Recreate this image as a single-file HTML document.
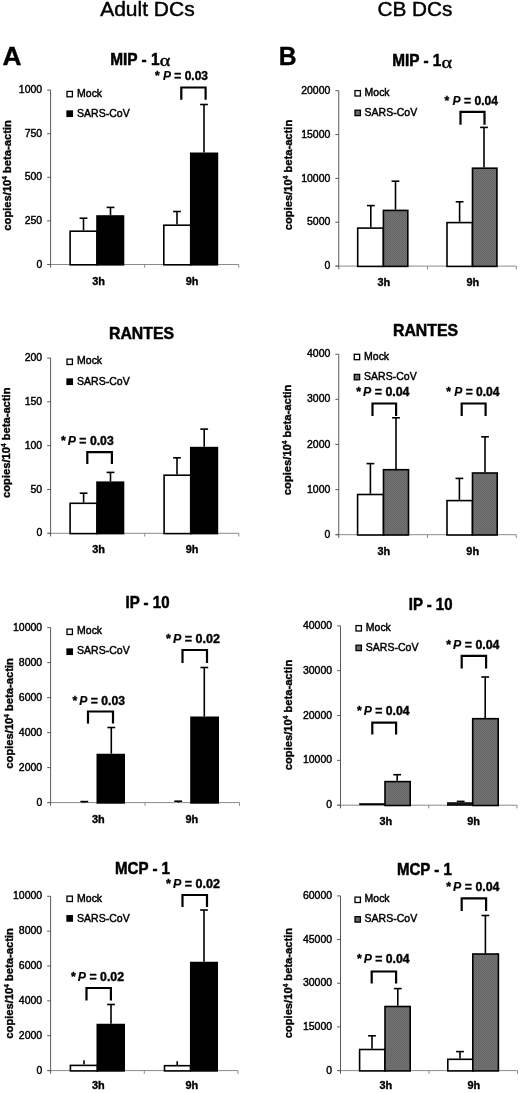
<!DOCTYPE html>
<html><head><meta charset="utf-8"><title>Figure</title>
<style>
html,body{margin:0;padding:0;background:#fff;}
body{width:520px;height:1093px;overflow:hidden;}
svg{display:block;font-family:"Liberation Sans", sans-serif;fill:#000;filter:grayscale(1);}
.n{stroke:#000;stroke-width:0.45px;}
.b{stroke:#000;stroke-width:0.38px;}
.t{stroke:#000;stroke-width:0.5px;}
.b2{stroke:#000;stroke-width:0.6px;}
</style></head><body>
<svg width="520" height="1093" viewBox="0 0 520 1093">
<defs><pattern id="hatch" width="2" height="2" patternUnits="userSpaceOnUse"><rect width="2" height="2" fill="#727272"/><rect width="1" height="1" fill="#666"/><rect x="1" y="1" width="1" height="1" fill="#666"/></pattern></defs>
<text x="100.2" y="16.2" font-size="21" font-weight="normal" text-anchor="start" textLength="94.5" lengthAdjust="spacingAndGlyphs" class="n">Adult DCs</text>
<text x="377.5" y="16.2" font-size="21" font-weight="normal" text-anchor="start" textLength="75" lengthAdjust="spacingAndGlyphs" class="n">CB DCs</text>
<text x="2.4" y="64.8" font-size="25.4" font-weight="bold" text-anchor="start" textLength="19" lengthAdjust="spacingAndGlyphs" class="b">A</text>
<text x="278.7" y="65.3" font-size="25.4" font-weight="bold" text-anchor="start" textLength="17.8" lengthAdjust="spacingAndGlyphs" class="b">B</text>
<line x1="47.6" y1="264.5" x2="238.75" y2="264.5" stroke="#8a8a8a" stroke-width="1"/>
<line x1="144.675" y1="264.5" x2="144.675" y2="267.7" stroke="#8a8a8a" stroke-width="1"/>
<line x1="238.75" y1="264.5" x2="238.75" y2="267.7" stroke="#8a8a8a" stroke-width="1"/>
<line x1="50.6" y1="90.1" x2="50.6" y2="267.7" stroke="#5a5a5a" stroke-width="1"/>
<line x1="47.2" y1="264.5" x2="50.6" y2="264.5" stroke="#5a5a5a" stroke-width="1"/>
<text x="42.2" y="267.6" font-size="11" font-weight="normal" text-anchor="end" textLength="5.8" lengthAdjust="spacingAndGlyphs" class="n">0</text>
<line x1="47.2" y1="220.9" x2="50.6" y2="220.9" stroke="#5a5a5a" stroke-width="1"/>
<text x="42.2" y="224.0" font-size="11" font-weight="normal" text-anchor="end" textLength="17.5" lengthAdjust="spacingAndGlyphs" class="n">250</text>
<line x1="47.2" y1="177.3" x2="50.6" y2="177.3" stroke="#5a5a5a" stroke-width="1"/>
<text x="42.2" y="180.4" font-size="11" font-weight="normal" text-anchor="end" textLength="17.5" lengthAdjust="spacingAndGlyphs" class="n">500</text>
<line x1="47.2" y1="133.7" x2="50.6" y2="133.7" stroke="#5a5a5a" stroke-width="1"/>
<text x="42.2" y="136.8" font-size="11" font-weight="normal" text-anchor="end" textLength="17.5" lengthAdjust="spacingAndGlyphs" class="n">750</text>
<line x1="47.2" y1="90.1" x2="50.6" y2="90.1" stroke="#5a5a5a" stroke-width="1"/>
<text x="42.2" y="93.2" font-size="11" font-weight="normal" text-anchor="end" textLength="23.4" lengthAdjust="spacingAndGlyphs" class="n">1000</text>
<rect x="70.1" y="231.20000000000002" width="26.9" height="33.6" fill="#fff" stroke="#000" stroke-width="1.6"/>
<line x1="83.5" y1="218.2" x2="83.5" y2="230.4" stroke="#000" stroke-width="1.6"/>
<line x1="79.6" y1="218.2" x2="87.4" y2="218.2" stroke="#000" stroke-width="1.6"/>
<rect x="97" y="216.0" width="26.5" height="48.8" fill="#000" stroke="#000" stroke-width="1.6"/>
<line x1="110.5" y1="207.4" x2="110.5" y2="215.2" stroke="#000" stroke-width="1.6"/>
<line x1="106.6" y1="207.4" x2="114.4" y2="207.4" stroke="#000" stroke-width="1.6"/>
<rect x="163.8" y="225.20000000000002" width="26.95" height="39.6" fill="#fff" stroke="#000" stroke-width="1.6"/>
<line x1="177" y1="211.5" x2="177" y2="224.4" stroke="#000" stroke-width="1.6"/>
<line x1="173.1" y1="211.5" x2="180.9" y2="211.5" stroke="#000" stroke-width="1.6"/>
<rect x="190.75" y="153.3" width="26.65" height="111.5" fill="#000" stroke="#000" stroke-width="1.6"/>
<line x1="204" y1="104.5" x2="204" y2="152.5" stroke="#000" stroke-width="1.6"/>
<line x1="200.1" y1="104.5" x2="207.9" y2="104.5" stroke="#000" stroke-width="1.6"/>
<text x="155" y="80" font-size="12" font-weight="bold" class="b" textLength="53" lengthAdjust="spacingAndGlyphs">* <tspan font-style="italic" stroke-width="0.15">P</tspan> = 0.03</text>
<path d="M181.3 99.65 V87.5 H205.6 V99.65" fill="none" stroke="#000" stroke-width="2.2"/>
<text x="110.2" y="64.5" font-size="15.9" font-weight="bold" class="t" textLength="49.4" lengthAdjust="spacingAndGlyphs">MIP - 1</text>
<text x="159.8" y="66.1" font-size="17.2" font-family="'Liberation Serif', serif" stroke="#000" stroke-width="0.4" textLength="10.6" lengthAdjust="spacingAndGlyphs">α</text>
<rect x="67.0" y="91.4" width="5.4" height="5.4" fill="#fff" stroke="#000" stroke-width="1.3"/>
<rect x="67.0" y="111.0" width="5.4" height="5.4" fill="#000" stroke="#000" stroke-width="1.3"/>
<text x="77.1" y="96.9" font-size="10.5" font-weight="normal" text-anchor="start" textLength="25" lengthAdjust="spacingAndGlyphs" class="n">Mock</text>
<text x="77.1" y="116.6" font-size="10.5" font-weight="normal" text-anchor="start" textLength="52.6" lengthAdjust="spacingAndGlyphs" class="n">SARS-CoV</text>
<text transform="translate(10.6,175.4) rotate(-90)" font-size="11.4" font-weight="bold" class="b" text-anchor="middle" textLength="110.5" lengthAdjust="spacingAndGlyphs">copies/10<tspan font-size="6.5" dy="-4">4</tspan><tspan dy="4"> beta-actin</tspan></text>
<text x="98.5" y="284.5" font-size="10.9" font-weight="bold" text-anchor="middle" class="b">3h</text>
<text x="192.10000000000002" y="284.5" font-size="10.9" font-weight="bold" text-anchor="middle" class="b">9h</text>
<line x1="47.6" y1="533.3" x2="238.75" y2="533.3" stroke="#8a8a8a" stroke-width="1"/>
<line x1="144.675" y1="533.3" x2="144.675" y2="536.5" stroke="#8a8a8a" stroke-width="1"/>
<line x1="238.75" y1="533.3" x2="238.75" y2="536.5" stroke="#8a8a8a" stroke-width="1"/>
<line x1="50.6" y1="358.0" x2="50.6" y2="536.5" stroke="#5a5a5a" stroke-width="1"/>
<line x1="47.2" y1="533.3" x2="50.6" y2="533.3" stroke="#5a5a5a" stroke-width="1"/>
<text x="42.2" y="536.4" font-size="11" font-weight="normal" text-anchor="end" textLength="5.8" lengthAdjust="spacingAndGlyphs" class="n">0</text>
<line x1="47.2" y1="489.47499999999997" x2="50.6" y2="489.47499999999997" stroke="#5a5a5a" stroke-width="1"/>
<text x="42.2" y="492.57" font-size="11" font-weight="normal" text-anchor="end" textLength="11.7" lengthAdjust="spacingAndGlyphs" class="n">50</text>
<line x1="47.2" y1="445.65" x2="50.6" y2="445.65" stroke="#5a5a5a" stroke-width="1"/>
<text x="42.2" y="448.75" font-size="11" font-weight="normal" text-anchor="end" textLength="17.5" lengthAdjust="spacingAndGlyphs" class="n">100</text>
<line x1="47.2" y1="401.825" x2="50.6" y2="401.825" stroke="#5a5a5a" stroke-width="1"/>
<text x="42.2" y="404.93" font-size="11" font-weight="normal" text-anchor="end" textLength="17.5" lengthAdjust="spacingAndGlyphs" class="n">150</text>
<line x1="47.2" y1="358.0" x2="50.6" y2="358.0" stroke="#5a5a5a" stroke-width="1"/>
<text x="42.2" y="361.1" font-size="11" font-weight="normal" text-anchor="end" textLength="17.5" lengthAdjust="spacingAndGlyphs" class="n">200</text>
<rect x="70.1" y="503.3" width="26.9" height="30.3" fill="#fff" stroke="#000" stroke-width="1.6"/>
<line x1="83.6" y1="493.2" x2="83.6" y2="502.5" stroke="#000" stroke-width="1.6"/>
<line x1="79.69999999999999" y1="493.2" x2="87.5" y2="493.2" stroke="#000" stroke-width="1.6"/>
<rect x="97" y="482.2" width="26.5" height="51.4" fill="#000" stroke="#000" stroke-width="1.6"/>
<line x1="110.5" y1="472.4" x2="110.5" y2="481.4" stroke="#000" stroke-width="1.6"/>
<line x1="106.6" y1="472.4" x2="114.4" y2="472.4" stroke="#000" stroke-width="1.6"/>
<rect x="164.10000000000002" y="475.2" width="26.65" height="58.4" fill="#fff" stroke="#000" stroke-width="1.6"/>
<line x1="177" y1="457.8" x2="177" y2="474.4" stroke="#000" stroke-width="1.6"/>
<line x1="173.1" y1="457.8" x2="180.9" y2="457.8" stroke="#000" stroke-width="1.6"/>
<rect x="190.75" y="447.6" width="26.65" height="86.0" fill="#000" stroke="#000" stroke-width="1.6"/>
<line x1="204.2" y1="429.1" x2="204.2" y2="446.8" stroke="#000" stroke-width="1.6"/>
<line x1="200.29999999999998" y1="429.1" x2="208.1" y2="429.1" stroke="#000" stroke-width="1.6"/>
<text x="61" y="444.5" font-size="12" font-weight="bold" class="b" textLength="52.75" lengthAdjust="spacingAndGlyphs">*<tspan font-style="italic" dx="2" stroke-width="0.15">P</tspan> = 0.03</text>
<path d="M87.3 463.9 V452.1 H111.9 V463.9" fill="none" stroke="#000" stroke-width="2.2"/>
<text x="109" y="338.5" font-size="15.9" font-weight="bold" class="t" textLength="65" lengthAdjust="spacingAndGlyphs">RANTES</text>
<rect x="67.0" y="359.1" width="5.4" height="5.4" fill="#fff" stroke="#000" stroke-width="1.3"/>
<rect x="67.0" y="379.0" width="5.4" height="5.4" fill="#000" stroke="#000" stroke-width="1.3"/>
<text x="77.1" y="364.4" font-size="10.5" font-weight="normal" text-anchor="start" textLength="25" lengthAdjust="spacingAndGlyphs" class="n">Mock</text>
<text x="77.1" y="384.6" font-size="10.5" font-weight="normal" text-anchor="start" textLength="52.6" lengthAdjust="spacingAndGlyphs" class="n">SARS-CoV</text>
<text transform="translate(10.4,442.75) rotate(-90)" font-size="11.4" font-weight="bold" class="b" text-anchor="middle" textLength="110.5" lengthAdjust="spacingAndGlyphs">copies/10<tspan font-size="6.5" dy="-4">4</tspan><tspan dy="4"> beta-actin</tspan></text>
<text x="98.5" y="553.4" font-size="10.9" font-weight="bold" text-anchor="middle" class="b">3h</text>
<text x="192.10000000000002" y="553.4" font-size="10.9" font-weight="bold" text-anchor="middle" class="b">9h</text>
<line x1="47.6" y1="802.6" x2="239.5" y2="802.6" stroke="#8a8a8a" stroke-width="1"/>
<line x1="145.05" y1="802.6" x2="145.05" y2="805.8000000000001" stroke="#8a8a8a" stroke-width="1"/>
<line x1="239.5" y1="802.6" x2="239.5" y2="805.8000000000001" stroke="#8a8a8a" stroke-width="1"/>
<line x1="50.6" y1="627.6" x2="50.6" y2="805.8000000000001" stroke="#5a5a5a" stroke-width="1"/>
<line x1="47.2" y1="802.6" x2="50.6" y2="802.6" stroke="#5a5a5a" stroke-width="1"/>
<text x="42.2" y="805.7" font-size="11" font-weight="normal" text-anchor="end" textLength="5.8" lengthAdjust="spacingAndGlyphs" class="n">0</text>
<line x1="47.2" y1="767.6" x2="50.6" y2="767.6" stroke="#5a5a5a" stroke-width="1"/>
<text x="42.2" y="770.7" font-size="11" font-weight="normal" text-anchor="end" textLength="23.4" lengthAdjust="spacingAndGlyphs" class="n">2000</text>
<line x1="47.2" y1="732.6" x2="50.6" y2="732.6" stroke="#5a5a5a" stroke-width="1"/>
<text x="42.2" y="735.7" font-size="11" font-weight="normal" text-anchor="end" textLength="23.4" lengthAdjust="spacingAndGlyphs" class="n">4000</text>
<line x1="47.2" y1="697.6" x2="50.6" y2="697.6" stroke="#5a5a5a" stroke-width="1"/>
<text x="42.2" y="700.7" font-size="11" font-weight="normal" text-anchor="end" textLength="23.4" lengthAdjust="spacingAndGlyphs" class="n">6000</text>
<line x1="47.2" y1="662.6" x2="50.6" y2="662.6" stroke="#5a5a5a" stroke-width="1"/>
<text x="42.2" y="665.7" font-size="11" font-weight="normal" text-anchor="end" textLength="23.4" lengthAdjust="spacingAndGlyphs" class="n">8000</text>
<line x1="47.2" y1="627.6" x2="50.6" y2="627.6" stroke="#5a5a5a" stroke-width="1"/>
<text x="42.2" y="630.7" font-size="11" font-weight="normal" text-anchor="end" textLength="29.2" lengthAdjust="spacingAndGlyphs" class="n">10000</text>
<line x1="84.3" y1="801.6" x2="84.3" y2="802.6" stroke="#000" stroke-width="1.6"/>
<line x1="80.39999999999999" y1="801.6" x2="88.2" y2="801.6" stroke="#000" stroke-width="1.6"/>
<rect x="97.3" y="754.55" width="26.9" height="48.35" fill="#000" stroke="#000" stroke-width="1.6"/>
<line x1="111.3" y1="727.5" x2="111.3" y2="753.75" stroke="#000" stroke-width="1.6"/>
<line x1="107.39999999999999" y1="727.5" x2="115.2" y2="727.5" stroke="#000" stroke-width="1.6"/>
<line x1="178.2" y1="801.2" x2="178.2" y2="802.6" stroke="#000" stroke-width="1.6"/>
<line x1="174.29999999999998" y1="801.2" x2="182.1" y2="801.2" stroke="#000" stroke-width="1.6"/>
<rect x="191" y="717.3" width="27.2" height="85.6" fill="#000" stroke="#000" stroke-width="1.6"/>
<line x1="204.3" y1="667.5" x2="204.3" y2="716.5" stroke="#000" stroke-width="1.6"/>
<line x1="200.4" y1="667.5" x2="208.20000000000002" y2="667.5" stroke="#000" stroke-width="1.6"/>
<text x="72.5" y="704.5" font-size="12" font-weight="bold" class="b" textLength="52.5" lengthAdjust="spacingAndGlyphs">*<tspan font-style="italic" dx="2" stroke-width="0.15">P</tspan> = 0.03</text>
<path d="M88 723.4 V711.5 H113.0 V723.4" fill="none" stroke="#000" stroke-width="2.2"/>
<text x="166" y="643" font-size="12" font-weight="bold" class="b" textLength="54" lengthAdjust="spacingAndGlyphs">*<tspan font-style="italic" dx="2" stroke-width="0.15">P</tspan> = 0.02</text>
<path d="M182.5 662.9 V650.0 H207.0 V662.9" fill="none" stroke="#000" stroke-width="2.2"/>
<text x="125.5" y="608" font-size="15.9" font-weight="bold" class="t" textLength="44.0" lengthAdjust="spacingAndGlyphs">IP - 10</text>
<rect x="67.0" y="629.1" width="5.4" height="5.4" fill="#fff" stroke="#000" stroke-width="1.3"/>
<rect x="67.0" y="649.0" width="5.4" height="5.4" fill="#000" stroke="#000" stroke-width="1.3"/>
<text x="77.1" y="634.4" font-size="10.5" font-weight="normal" text-anchor="start" textLength="25" lengthAdjust="spacingAndGlyphs" class="n">Mock</text>
<text x="77.1" y="654.4" font-size="10.5" font-weight="normal" text-anchor="start" textLength="52.6" lengthAdjust="spacingAndGlyphs" class="n">SARS-CoV</text>
<text transform="translate(12.8,713.4) rotate(-90)" font-size="11.4" font-weight="bold" class="b" text-anchor="middle" textLength="110.5" lengthAdjust="spacingAndGlyphs">copies/10<tspan font-size="6.5" dy="-4">4</tspan><tspan dy="4"> beta-actin</tspan></text>
<text x="98.3" y="823" font-size="10.9" font-weight="bold" text-anchor="middle" class="b">3h</text>
<text x="191.8" y="823" font-size="10.9" font-weight="bold" text-anchor="middle" class="b">9h</text>
<line x1="47.6" y1="1070.6" x2="238" y2="1070.6" stroke="#8a8a8a" stroke-width="1"/>
<line x1="144.3" y1="1070.6" x2="144.3" y2="1073.8" stroke="#8a8a8a" stroke-width="1"/>
<line x1="238" y1="1070.6" x2="238" y2="1073.8" stroke="#8a8a8a" stroke-width="1"/>
<line x1="50.6" y1="896.3" x2="50.6" y2="1073.8" stroke="#5a5a5a" stroke-width="1"/>
<line x1="47.2" y1="1070.6" x2="50.6" y2="1070.6" stroke="#5a5a5a" stroke-width="1"/>
<text x="42.2" y="1073.7" font-size="11" font-weight="normal" text-anchor="end" textLength="5.8" lengthAdjust="spacingAndGlyphs" class="n">0</text>
<line x1="47.2" y1="1035.74" x2="50.6" y2="1035.74" stroke="#5a5a5a" stroke-width="1"/>
<text x="42.2" y="1038.84" font-size="11" font-weight="normal" text-anchor="end" textLength="23.4" lengthAdjust="spacingAndGlyphs" class="n">2000</text>
<line x1="47.2" y1="1000.8799999999999" x2="50.6" y2="1000.8799999999999" stroke="#5a5a5a" stroke-width="1"/>
<text x="42.2" y="1003.98" font-size="11" font-weight="normal" text-anchor="end" textLength="23.4" lengthAdjust="spacingAndGlyphs" class="n">4000</text>
<line x1="47.2" y1="966.02" x2="50.6" y2="966.02" stroke="#5a5a5a" stroke-width="1"/>
<text x="42.2" y="969.12" font-size="11" font-weight="normal" text-anchor="end" textLength="23.4" lengthAdjust="spacingAndGlyphs" class="n">6000</text>
<line x1="47.2" y1="931.16" x2="50.6" y2="931.16" stroke="#5a5a5a" stroke-width="1"/>
<text x="42.2" y="934.26" font-size="11" font-weight="normal" text-anchor="end" textLength="23.4" lengthAdjust="spacingAndGlyphs" class="n">8000</text>
<line x1="47.2" y1="896.3" x2="50.6" y2="896.3" stroke="#5a5a5a" stroke-width="1"/>
<text x="42.2" y="899.4" font-size="11" font-weight="normal" text-anchor="end" textLength="29.2" lengthAdjust="spacingAndGlyphs" class="n">10000</text>
<rect x="70.39999999999999" y="1065.3999999999999" width="27.1" height="5.5" fill="#fff" stroke="#000" stroke-width="1.6"/>
<line x1="84" y1="1060.2" x2="84" y2="1064.6" stroke="#000" stroke-width="1.6"/>
<rect x="97.3" y="1024.55" width="26.9" height="46.35" fill="#000" stroke="#000" stroke-width="1.6"/>
<line x1="111" y1="1004.5" x2="111" y2="1023.75" stroke="#000" stroke-width="1.6"/>
<line x1="107.1" y1="1004.5" x2="114.9" y2="1004.5" stroke="#000" stroke-width="1.6"/>
<rect x="164.5" y="1065.7" width="26.0" height="5.2" fill="#fff" stroke="#000" stroke-width="1.6"/>
<line x1="177.2" y1="1061.2" x2="177.2" y2="1064.9" stroke="#000" stroke-width="1.6"/>
<rect x="190.75" y="962.55" width="26.45" height="108.35" fill="#000" stroke="#000" stroke-width="1.6"/>
<line x1="204" y1="910" x2="204" y2="961.75" stroke="#000" stroke-width="1.6"/>
<line x1="200.1" y1="910" x2="207.9" y2="910" stroke="#000" stroke-width="1.6"/>
<text x="71" y="980.5" font-size="12" font-weight="bold" class="b" textLength="53" lengthAdjust="spacingAndGlyphs">*<tspan font-style="italic" dx="2" stroke-width="0.15">P</tspan> = 0.02</text>
<path d="M86.5 1000.4 V988.0 H110.9 V1000.4" fill="none" stroke="#000" stroke-width="2.2"/>
<text x="166" y="887.5" font-size="12" font-weight="bold" class="b" textLength="54" lengthAdjust="spacingAndGlyphs">*<tspan font-style="italic" dx="2" stroke-width="0.15">P</tspan> = 0.02</text>
<path d="M182.5 906.9 V895.0 H207.0 V906.9" fill="none" stroke="#000" stroke-width="2.2"/>
<text x="115" y="874" font-size="15.9" font-weight="bold" class="t" textLength="55" lengthAdjust="spacingAndGlyphs">MCP - 1</text>
<rect x="67.0" y="896.1" width="5.4" height="5.4" fill="#fff" stroke="#000" stroke-width="1.3"/>
<rect x="67.0" y="915.7" width="5.4" height="5.4" fill="#000" stroke="#000" stroke-width="1.3"/>
<text x="77.1" y="902.0" font-size="10.5" font-weight="normal" text-anchor="start" textLength="25" lengthAdjust="spacingAndGlyphs" class="n">Mock</text>
<text x="77.1" y="921.6" font-size="10.5" font-weight="normal" text-anchor="start" textLength="52.6" lengthAdjust="spacingAndGlyphs" class="n">SARS-CoV</text>
<text transform="translate(12.8,983.4) rotate(-90)" font-size="11.4" font-weight="bold" class="b" text-anchor="middle" textLength="110.5" lengthAdjust="spacingAndGlyphs">copies/10<tspan font-size="6.5" dy="-4">4</tspan><tspan dy="4"> beta-actin</tspan></text>
<text x="98.3" y="1089" font-size="10.9" font-weight="bold" text-anchor="middle" class="b">3h</text>
<text x="191.8" y="1089" font-size="10.9" font-weight="bold" text-anchor="middle" class="b">9h</text>
<line x1="335.75" y1="266.1" x2="516.25" y2="266.1" stroke="#8a8a8a" stroke-width="1"/>
<line x1="427.5" y1="266.1" x2="427.5" y2="269.3" stroke="#8a8a8a" stroke-width="1"/>
<line x1="516.25" y1="266.1" x2="516.25" y2="269.3" stroke="#8a8a8a" stroke-width="1"/>
<line x1="338.75" y1="90.7" x2="338.75" y2="269.3" stroke="#5a5a5a" stroke-width="1"/>
<line x1="335.35" y1="266.1" x2="338.75" y2="266.1" stroke="#5a5a5a" stroke-width="1"/>
<text x="330.35" y="269.2" font-size="11" font-weight="normal" text-anchor="end" textLength="5.8" lengthAdjust="spacingAndGlyphs" class="n">0</text>
<line x1="335.35" y1="222.25" x2="338.75" y2="222.25" stroke="#5a5a5a" stroke-width="1"/>
<text x="330.35" y="225.35" font-size="11" font-weight="normal" text-anchor="end" textLength="23.4" lengthAdjust="spacingAndGlyphs" class="n">5000</text>
<line x1="335.35" y1="178.4" x2="338.75" y2="178.4" stroke="#5a5a5a" stroke-width="1"/>
<text x="330.35" y="181.5" font-size="11" font-weight="normal" text-anchor="end" textLength="29.2" lengthAdjust="spacingAndGlyphs" class="n">10000</text>
<line x1="335.35" y1="134.55" x2="338.75" y2="134.55" stroke="#5a5a5a" stroke-width="1"/>
<text x="330.35" y="137.65" font-size="11" font-weight="normal" text-anchor="end" textLength="29.2" lengthAdjust="spacingAndGlyphs" class="n">15000</text>
<line x1="335.35" y1="90.69999999999999" x2="338.75" y2="90.69999999999999" stroke="#5a5a5a" stroke-width="1"/>
<text x="330.35" y="93.8" font-size="11" font-weight="normal" text-anchor="end" textLength="29.2" lengthAdjust="spacingAndGlyphs" class="n">20000</text>
<rect x="357.7" y="228.10000000000002" width="25.7" height="38.3" fill="#fff" stroke="#000" stroke-width="1.6"/>
<line x1="370.8" y1="205.6" x2="370.8" y2="227.3" stroke="#000" stroke-width="1.6"/>
<line x1="366.90000000000003" y1="205.6" x2="374.7" y2="205.6" stroke="#000" stroke-width="1.6"/>
<rect x="383.4" y="210.4" width="24.4" height="56.0" fill="url(#hatch)" stroke="#000" stroke-width="1.6"/>
<line x1="395.5" y1="181.2" x2="395.5" y2="209.6" stroke="#000" stroke-width="1.6"/>
<line x1="391.6" y1="181.2" x2="399.4" y2="181.2" stroke="#000" stroke-width="1.6"/>
<rect x="447.0" y="222.60000000000002" width="25.5" height="43.8" fill="#fff" stroke="#000" stroke-width="1.6"/>
<line x1="459.6" y1="201.8" x2="459.6" y2="221.8" stroke="#000" stroke-width="1.6"/>
<line x1="455.70000000000005" y1="201.8" x2="463.5" y2="201.8" stroke="#000" stroke-width="1.6"/>
<rect x="472.5" y="168.20000000000002" width="24.4" height="98.2" fill="url(#hatch)" stroke="#000" stroke-width="1.6"/>
<line x1="484" y1="127.4" x2="484" y2="167.4" stroke="#000" stroke-width="1.6"/>
<line x1="480.1" y1="127.4" x2="487.9" y2="127.4" stroke="#000" stroke-width="1.6"/>
<text x="444.5" y="105" font-size="12" font-weight="bold" class="b" textLength="53.5" lengthAdjust="spacingAndGlyphs">* <tspan font-style="italic" stroke-width="0.15">P</tspan> = 0.04</text>
<path d="M460.5 124.65 V111.8 H484.5 V124.65" fill="none" stroke="#000" stroke-width="2.2"/>
<text x="392.2" y="66.25" font-size="15.9" font-weight="bold" class="t" textLength="49.09999999999999" lengthAdjust="spacingAndGlyphs">MIP - 1</text>
<text x="441.5" y="67.85" font-size="17.2" font-family="'Liberation Serif', serif" stroke="#000" stroke-width="0.4" textLength="10.6" lengthAdjust="spacingAndGlyphs">α</text>
<rect x="355.0" y="90.6" width="5.4" height="5.4" fill="#fff" stroke="#000" stroke-width="1.3"/>
<rect x="355.0" y="110.2" width="5.4" height="5.4" fill="url(#hatch)" stroke="#000" stroke-width="1.3"/>
<text x="364.6" y="96.3" font-size="10.5" font-weight="normal" text-anchor="start" textLength="25" lengthAdjust="spacingAndGlyphs" class="n">Mock</text>
<text x="364.6" y="116.3" font-size="10.5" font-weight="normal" text-anchor="start" textLength="52.6" lengthAdjust="spacingAndGlyphs" class="n">SARS-CoV</text>
<text transform="translate(291.6,175) rotate(-90)" font-size="11.4" font-weight="bold" class="b" text-anchor="middle" textLength="110.5" lengthAdjust="spacingAndGlyphs">copies/10<tspan font-size="6.5" dy="-4">4</tspan><tspan dy="4"> beta-actin</tspan></text>
<text x="383.9" y="286" font-size="10.9" font-weight="bold" text-anchor="middle" class="b">3h</text>
<text x="472.9" y="286" font-size="10.9" font-weight="bold" text-anchor="middle" class="b">9h</text>
<line x1="335.75" y1="534.7" x2="516.25" y2="534.7" stroke="#8a8a8a" stroke-width="1"/>
<line x1="427.5" y1="534.7" x2="427.5" y2="537.9000000000001" stroke="#8a8a8a" stroke-width="1"/>
<line x1="516.25" y1="534.7" x2="516.25" y2="537.9000000000001" stroke="#8a8a8a" stroke-width="1"/>
<line x1="338.75" y1="354.2" x2="338.75" y2="537.9000000000001" stroke="#5a5a5a" stroke-width="1"/>
<line x1="335.35" y1="534.7" x2="338.75" y2="534.7" stroke="#5a5a5a" stroke-width="1"/>
<text x="330.35" y="537.8" font-size="11" font-weight="normal" text-anchor="end" textLength="5.8" lengthAdjust="spacingAndGlyphs" class="n">0</text>
<line x1="335.35" y1="489.57500000000005" x2="338.75" y2="489.57500000000005" stroke="#5a5a5a" stroke-width="1"/>
<text x="330.35" y="492.68" font-size="11" font-weight="normal" text-anchor="end" textLength="23.4" lengthAdjust="spacingAndGlyphs" class="n">1000</text>
<line x1="335.35" y1="444.45000000000005" x2="338.75" y2="444.45000000000005" stroke="#5a5a5a" stroke-width="1"/>
<text x="330.35" y="447.55" font-size="11" font-weight="normal" text-anchor="end" textLength="23.4" lengthAdjust="spacingAndGlyphs" class="n">2000</text>
<line x1="335.35" y1="399.325" x2="338.75" y2="399.325" stroke="#5a5a5a" stroke-width="1"/>
<text x="330.35" y="402.43" font-size="11" font-weight="normal" text-anchor="end" textLength="23.4" lengthAdjust="spacingAndGlyphs" class="n">3000</text>
<line x1="335.35" y1="354.2" x2="338.75" y2="354.2" stroke="#5a5a5a" stroke-width="1"/>
<text x="330.35" y="357.3" font-size="11" font-weight="normal" text-anchor="end" textLength="23.4" lengthAdjust="spacingAndGlyphs" class="n">4000</text>
<rect x="357.6" y="494.5" width="25.9" height="40.5" fill="#fff" stroke="#000" stroke-width="1.6"/>
<line x1="370.4" y1="463.6" x2="370.4" y2="493.7" stroke="#000" stroke-width="1.6"/>
<line x1="366.5" y1="463.6" x2="374.29999999999995" y2="463.6" stroke="#000" stroke-width="1.6"/>
<rect x="383.5" y="469.7" width="25.0" height="65.3" fill="url(#hatch)" stroke="#000" stroke-width="1.6"/>
<line x1="396" y1="417.8" x2="396" y2="468.9" stroke="#000" stroke-width="1.6"/>
<line x1="392.1" y1="417.8" x2="399.9" y2="417.8" stroke="#000" stroke-width="1.6"/>
<rect x="447.0" y="500.6" width="25.5" height="34.4" fill="#fff" stroke="#000" stroke-width="1.6"/>
<line x1="459.4" y1="478.4" x2="459.4" y2="499.8" stroke="#000" stroke-width="1.6"/>
<line x1="455.5" y1="478.4" x2="463.29999999999995" y2="478.4" stroke="#000" stroke-width="1.6"/>
<rect x="472.5" y="473.0" width="24.7" height="62.0" fill="url(#hatch)" stroke="#000" stroke-width="1.6"/>
<line x1="485" y1="436.8" x2="485" y2="472.2" stroke="#000" stroke-width="1.6"/>
<line x1="481.1" y1="436.8" x2="488.9" y2="436.8" stroke="#000" stroke-width="1.6"/>
<text x="356.25" y="396.4" font-size="12" font-weight="bold" class="b" textLength="53.25" lengthAdjust="spacingAndGlyphs">*<tspan font-style="italic" dx="2" stroke-width="0.15">P</tspan> = 0.04</text>
<path d="M372.5 415.9 V403.5 H396.1 V415.9" fill="none" stroke="#000" stroke-width="2.2"/>
<text x="446.25" y="396.4" font-size="12" font-weight="bold" class="b" textLength="53.25" lengthAdjust="spacingAndGlyphs">* <tspan font-style="italic" stroke-width="0.15">P</tspan> = 0.04</text>
<path d="M461.7 415.9 V403.5 H485.6 V415.9" fill="none" stroke="#000" stroke-width="2.2"/>
<text x="393" y="336.25" font-size="15.9" font-weight="bold" class="t" textLength="65" lengthAdjust="spacingAndGlyphs">RANTES</text>
<rect x="354.25" y="354.3" width="5.4" height="5.4" fill="#fff" stroke="#000" stroke-width="1.3"/>
<rect x="354.25" y="374.4" width="5.4" height="5.4" fill="url(#hatch)" stroke="#000" stroke-width="1.3"/>
<text x="364.1" y="359.9" font-size="10.5" font-weight="normal" text-anchor="start" textLength="25" lengthAdjust="spacingAndGlyphs" class="n">Mock</text>
<text x="364.1" y="380.3" font-size="10.5" font-weight="normal" text-anchor="start" textLength="52.6" lengthAdjust="spacingAndGlyphs" class="n">SARS-CoV</text>
<text transform="translate(290.5,439.9) rotate(-90)" font-size="11.4" font-weight="bold" class="b" text-anchor="middle" textLength="110.5" lengthAdjust="spacingAndGlyphs">copies/10<tspan font-size="6.5" dy="-4">4</tspan><tspan dy="4"> beta-actin</tspan></text>
<text x="383.9" y="555" font-size="10.9" font-weight="bold" text-anchor="middle" class="b">3h</text>
<text x="472.7" y="555" font-size="10.9" font-weight="bold" text-anchor="middle" class="b">9h</text>
<line x1="337.5" y1="805.2" x2="517" y2="805.2" stroke="#8a8a8a" stroke-width="1"/>
<line x1="428.75" y1="805.2" x2="428.75" y2="808.4000000000001" stroke="#8a8a8a" stroke-width="1"/>
<line x1="517" y1="805.2" x2="517" y2="808.4000000000001" stroke="#8a8a8a" stroke-width="1"/>
<line x1="340.5" y1="625.9" x2="340.5" y2="808.4000000000001" stroke="#5a5a5a" stroke-width="1"/>
<line x1="337.1" y1="805.2" x2="340.5" y2="805.2" stroke="#5a5a5a" stroke-width="1"/>
<text x="332.1" y="808.3" font-size="11" font-weight="normal" text-anchor="end" textLength="5.8" lengthAdjust="spacingAndGlyphs" class="n">0</text>
<line x1="337.1" y1="760.375" x2="340.5" y2="760.375" stroke="#5a5a5a" stroke-width="1"/>
<text x="332.1" y="763.48" font-size="11" font-weight="normal" text-anchor="end" textLength="29.2" lengthAdjust="spacingAndGlyphs" class="n">10000</text>
<line x1="337.1" y1="715.55" x2="340.5" y2="715.55" stroke="#5a5a5a" stroke-width="1"/>
<text x="332.1" y="718.65" font-size="11" font-weight="normal" text-anchor="end" textLength="29.2" lengthAdjust="spacingAndGlyphs" class="n">20000</text>
<line x1="337.1" y1="670.725" x2="340.5" y2="670.725" stroke="#5a5a5a" stroke-width="1"/>
<text x="332.1" y="673.83" font-size="11" font-weight="normal" text-anchor="end" textLength="29.2" lengthAdjust="spacingAndGlyphs" class="n">30000</text>
<line x1="337.1" y1="625.9" x2="340.5" y2="625.9" stroke="#5a5a5a" stroke-width="1"/>
<text x="332.1" y="629.0" font-size="11" font-weight="normal" text-anchor="end" textLength="29.2" lengthAdjust="spacingAndGlyphs" class="n">40000</text>
<line x1="359.2" y1="804.2" x2="385" y2="804.2" stroke="#000" stroke-width="2"/>
<rect x="385" y="781.5999999999999" width="25.2" height="23.9" fill="url(#hatch)" stroke="#000" stroke-width="1.6"/>
<line x1="397.2" y1="774.7" x2="397.2" y2="780.8" stroke="#000" stroke-width="1.6"/>
<line x1="393.3" y1="774.7" x2="401.09999999999997" y2="774.7" stroke="#000" stroke-width="1.6"/>
<rect x="447" y="802.2" width="26.25" height="3.6" fill="#111"/>
<line x1="460.7" y1="801.4" x2="460.7" y2="802.2" stroke="#000" stroke-width="1.6"/>
<line x1="456.8" y1="801.4" x2="464.59999999999997" y2="801.4" stroke="#000" stroke-width="1.6"/>
<rect x="472.7" y="718.6999999999999" width="25.5" height="86.8" fill="url(#hatch)" stroke="#000" stroke-width="1.6"/>
<line x1="485.2" y1="677" x2="485.2" y2="717.9" stroke="#000" stroke-width="1.6"/>
<line x1="481.3" y1="677" x2="489.09999999999997" y2="677" stroke="#000" stroke-width="1.6"/>
<text x="357" y="714.8" font-size="12" font-weight="bold" class="b" textLength="52.5" lengthAdjust="spacingAndGlyphs">*<tspan font-style="italic" dx="2" stroke-width="0.15">P</tspan> = 0.04</text>
<path d="M372.3 734.4 V722.7 H396.1 V734.4" fill="none" stroke="#000" stroke-width="2.2"/>
<text x="446.25" y="649.25" font-size="12" font-weight="bold" class="b" textLength="53.25" lengthAdjust="spacingAndGlyphs">*<tspan font-style="italic" dx="2" stroke-width="0.15">P</tspan> = 0.04</text>
<path d="M461.7 668.4 V655.8 H486.1 V668.4" fill="none" stroke="#000" stroke-width="2.2"/>
<text x="408.75" y="609.5" font-size="15.9" font-weight="bold" class="t" textLength="43.75" lengthAdjust="spacingAndGlyphs">IP - 10</text>
<rect x="356.0" y="625.6" width="5.4" height="5.4" fill="#fff" stroke="#000" stroke-width="1.3"/>
<rect x="356.0" y="645.2" width="5.4" height="5.4" fill="url(#hatch)" stroke="#000" stroke-width="1.3"/>
<text x="365.85" y="631.1" font-size="10.5" font-weight="normal" text-anchor="start" textLength="25" lengthAdjust="spacingAndGlyphs" class="n">Mock</text>
<text x="365.85" y="651.1" font-size="10.5" font-weight="normal" text-anchor="start" textLength="52.6" lengthAdjust="spacingAndGlyphs" class="n">SARS-CoV</text>
<text transform="translate(291.6,715) rotate(-90)" font-size="11.4" font-weight="bold" class="b" text-anchor="middle" textLength="110.5" lengthAdjust="spacingAndGlyphs">copies/10<tspan font-size="6.5" dy="-4">4</tspan><tspan dy="4"> beta-actin</tspan></text>
<text x="385.9" y="825" font-size="10.9" font-weight="bold" text-anchor="middle" class="b">3h</text>
<text x="473.65" y="825" font-size="10.9" font-weight="bold" text-anchor="middle" class="b">9h</text>
<line x1="337.5" y1="1070.6" x2="517.5" y2="1070.6" stroke="#8a8a8a" stroke-width="1"/>
<line x1="429.0" y1="1070.6" x2="429.0" y2="1073.8" stroke="#8a8a8a" stroke-width="1"/>
<line x1="517.5" y1="1070.6" x2="517.5" y2="1073.8" stroke="#8a8a8a" stroke-width="1"/>
<line x1="340.5" y1="895.9" x2="340.5" y2="1073.8" stroke="#5a5a5a" stroke-width="1"/>
<line x1="337.1" y1="1070.6" x2="340.5" y2="1070.6" stroke="#5a5a5a" stroke-width="1"/>
<text x="332.1" y="1073.7" font-size="11" font-weight="normal" text-anchor="end" textLength="5.8" lengthAdjust="spacingAndGlyphs" class="n">0</text>
<line x1="337.1" y1="1026.925" x2="340.5" y2="1026.925" stroke="#5a5a5a" stroke-width="1"/>
<text x="332.1" y="1030.02" font-size="11" font-weight="normal" text-anchor="end" textLength="29.2" lengthAdjust="spacingAndGlyphs" class="n">15000</text>
<line x1="337.1" y1="983.25" x2="340.5" y2="983.25" stroke="#5a5a5a" stroke-width="1"/>
<text x="332.1" y="986.35" font-size="11" font-weight="normal" text-anchor="end" textLength="29.2" lengthAdjust="spacingAndGlyphs" class="n">30000</text>
<line x1="337.1" y1="939.5749999999999" x2="340.5" y2="939.5749999999999" stroke="#5a5a5a" stroke-width="1"/>
<text x="332.1" y="942.67" font-size="11" font-weight="normal" text-anchor="end" textLength="29.2" lengthAdjust="spacingAndGlyphs" class="n">45000</text>
<line x1="337.1" y1="895.9" x2="340.5" y2="895.9" stroke="#5a5a5a" stroke-width="1"/>
<text x="332.1" y="899.0" font-size="11" font-weight="normal" text-anchor="end" textLength="29.2" lengthAdjust="spacingAndGlyphs" class="n">60000</text>
<rect x="359.6" y="1049.5" width="25.4" height="21.4" fill="#fff" stroke="#000" stroke-width="1.6"/>
<line x1="372" y1="1035.8" x2="372" y2="1048.7" stroke="#000" stroke-width="1.6"/>
<line x1="368.1" y1="1035.8" x2="375.9" y2="1035.8" stroke="#000" stroke-width="1.6"/>
<rect x="385" y="1006.5" width="25.2" height="64.4" fill="url(#hatch)" stroke="#000" stroke-width="1.6"/>
<line x1="397.8" y1="988.6" x2="397.8" y2="1005.7" stroke="#000" stroke-width="1.6"/>
<line x1="393.90000000000003" y1="988.6" x2="401.7" y2="988.6" stroke="#000" stroke-width="1.6"/>
<rect x="447.8" y="1059.3" width="25.2" height="11.6" fill="#fff" stroke="#000" stroke-width="1.6"/>
<line x1="460" y1="1051.6" x2="460" y2="1058.5" stroke="#000" stroke-width="1.6"/>
<line x1="456.1" y1="1051.6" x2="463.9" y2="1051.6" stroke="#000" stroke-width="1.6"/>
<rect x="472.8" y="954.0" width="25.6" height="116.9" fill="url(#hatch)" stroke="#000" stroke-width="1.6"/>
<line x1="485.4" y1="915.5" x2="485.4" y2="953.2" stroke="#000" stroke-width="1.6"/>
<line x1="481.5" y1="915.5" x2="489.29999999999995" y2="915.5" stroke="#000" stroke-width="1.6"/>
<text x="357" y="963.25" font-size="12" font-weight="bold" class="b" textLength="52.5" lengthAdjust="spacingAndGlyphs">*<tspan font-style="italic" dx="2" stroke-width="0.15">P</tspan> = 0.04</text>
<path d="M371.7 983.4 V971.5 H396.1 V983.4" fill="none" stroke="#000" stroke-width="2.2"/>
<text x="446.25" y="890.75" font-size="12" font-weight="bold" class="b" textLength="53.25" lengthAdjust="spacingAndGlyphs">*<tspan font-style="italic" dx="2" stroke-width="0.15">P</tspan> = 0.04</text>
<path d="M461.7 910.9 V898.3 H486.1 V910.9" fill="none" stroke="#000" stroke-width="2.2"/>
<text x="397" y="875" font-size="15.9" font-weight="bold" class="t" textLength="54.75" lengthAdjust="spacingAndGlyphs">MCP - 1</text>
<rect x="355.0" y="897.1" width="5.4" height="5.4" fill="#fff" stroke="#000" stroke-width="1.3"/>
<rect x="355.0" y="916.7" width="5.4" height="5.4" fill="url(#hatch)" stroke="#000" stroke-width="1.3"/>
<text x="364.6" y="902.4" font-size="10.5" font-weight="normal" text-anchor="start" textLength="25" lengthAdjust="spacingAndGlyphs" class="n">Mock</text>
<text x="364.6" y="922.4" font-size="10.5" font-weight="normal" text-anchor="start" textLength="52.6" lengthAdjust="spacingAndGlyphs" class="n">SARS-CoV</text>
<text transform="translate(291.7,983.1) rotate(-90)" font-size="11.4" font-weight="bold" class="b" text-anchor="middle" textLength="110.5" lengthAdjust="spacingAndGlyphs">copies/10<tspan font-size="6.5" dy="-4">4</tspan><tspan dy="4"> beta-actin</tspan></text>
<text x="385.9" y="1089.2" font-size="10.9" font-weight="bold" text-anchor="middle" class="b">3h</text>
<text x="473.9" y="1089.2" font-size="10.9" font-weight="bold" text-anchor="middle" class="b">9h</text>
</svg>
</body></html>
